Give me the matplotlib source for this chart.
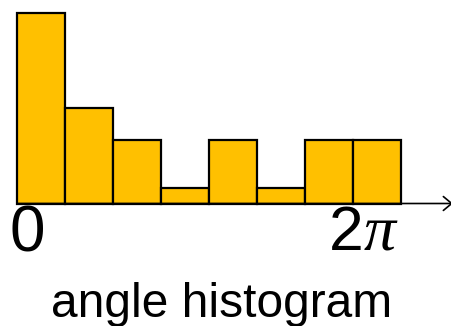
import numpy as np
import matplotlib
matplotlib.use("Agg")
import matplotlib.pyplot as plt

# histogram of angles over [0, 2π)
counts = [12, 6, 4, 1, 4, 1, 4, 4]
n_bins = len(counts)
bin_width = 2 * np.pi / n_bins
bin_left = [i * bin_width for i in range(n_bins)]

tick_zero = "0"
tick_two = "2"
tick_pi = "π"
caption = "angle histogram"

W, H = 452, 326
fig = plt.figure(figsize=(W / 100, H / 100), dpi=100)
ax = fig.add_axes([0, 0, 1, 1])
ax.set_axis_off()

# axis scaling: 0 .. 2π spans 384 px starting 17 px from the left
px_per_x = 384 / (2 * np.pi)
x0_px = 17
ax.set_xlim(-x0_px / px_per_x, (W - x0_px) / px_per_x)
px_per_count = 15.9
base_px = H - 203.5
ax.set_ylim(-base_px / px_per_count, (H - base_px) / px_per_count)


def px_x(p):
    return (p - x0_px) / px_per_x


def px_y(p):
    return (H - p - base_px) / px_per_count


ax.bar(bin_left, counts, width=bin_width, align="edge",
       color="#FFC000", edgecolor="black", linewidth=1.6, zorder=2)

# horizontal axis with open arrow head
ax.annotate("", xy=(px_x(453), 0), xytext=(0, 0), annotation_clip=False,
            arrowprops=dict(arrowstyle="->,head_length=0.6,head_width=0.5",
                            color="black", lw=1.2, shrinkA=0, shrinkB=0),
            zorder=3)

sans = "Liberation Sans"
ax.text(px_x(9), px_y(204), tick_zero, ha="left", va="top", fontsize=46,
        family=sans, color="black")
ax.text(px_x(329), px_y(204), tick_two, ha="left", va="top", fontsize=45,
        family=sans, color="black")
ax.text(px_x(396), px_y(249), tick_pi, ha="right", va="baseline",
        fontsize=46, family="Liberation Serif", style="italic", color="black")

fig.text(221.5 / W, 1 - 317 / H, caption, ha="center", va="baseline",
         fontsize=34.5, family=sans, color="black")

fig.savefig("out.png", dpi=100)
